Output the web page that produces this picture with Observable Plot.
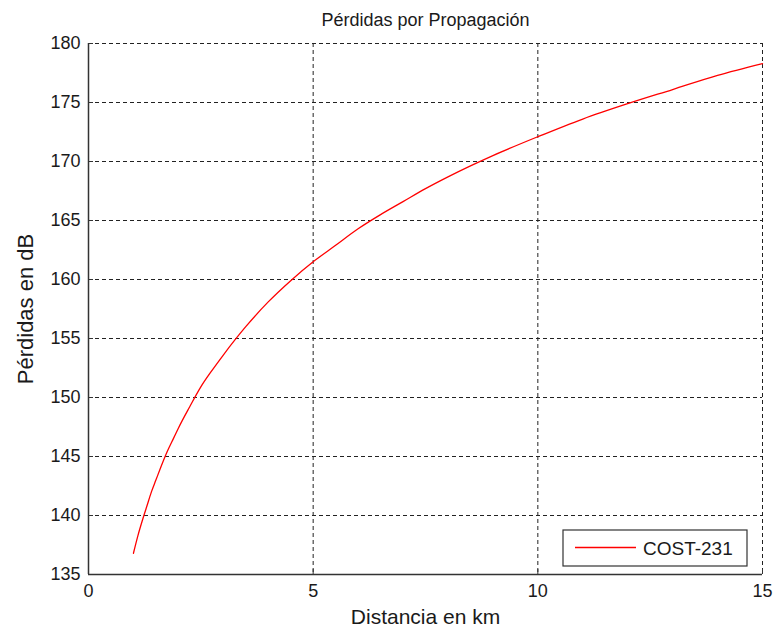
<!DOCTYPE html>
<html>
<head>
<meta charset="utf-8">
<script src="https://cdn.jsdelivr.net/npm/d3@7"></script>
<script src="https://cdn.jsdelivr.net/npm/@observablehq/plot@0.6"></script>
<style>
  html, body { margin: 0; padding: 0; background: #fff; }
  #chart { width: 775px; height: 628px; }
  svg { font-family: "Liberation Sans", Arial, sans-serif; }
</style>
</head>
<body>
<div id="chart"></div>
<script>
const title = "Pérdidas por Propagación";
const xLabel = "Distancia en km";
const yLabel = "Pérdidas en dB";
const seriesName = "COST-231";

const distanceKm = [1, 1.1, 1.2, 1.3, 1.4, 1.5, 1.6, 1.75, 1.9, 2, 2.25, 2.5, 2.75, 3, 3.5, 4, 4.5, 5, 5.5, 6, 6.5, 7, 7.5, 8, 9, 10, 11, 12, 13, 14, 15];
const lossDb = [136.8, 138.3, 139.6, 140.8, 142.0, 143.0, 144.0, 145.4, 146.6, 147.4, 149.2, 150.9, 152.3, 153.6, 156.0, 158.1, 159.9, 161.5, 162.9, 164.3, 165.5, 166.6, 167.7, 168.7, 170.5, 172.1, 173.6, 174.9, 176.1, 177.3, 178.3];

const xTicks = [0, 5, 10, 15];
const yTicks = [135, 140, 145, 150, 155, 160, 165, 170, 175, 180];

const data = distanceKm.map((d, i) => ({d, L: lossDb[i]}));

const W = 775, H = 628;
const mL = 88, mR = 13, mT = 43, mB = 54;
const plotW = W - mL - mR, plotH = H - mT - mB;

const chart = Plot.plot({
  width: W,
  height: H,
  marginLeft: mL,
  marginRight: mR,
  marginTop: mT,
  marginBottom: mB,
  style: {fontFamily: "Liberation Sans, Arial, sans-serif", fontSize: "18px", color: "#1a1a1a", background: "#fff"},
  x: {domain: [0, 15], ticks: xTicks},
  y: {domain: [135, 180], ticks: yTicks},
  marks: [
    Plot.gridX(xTicks, {stroke: "#222", strokeOpacity: 1, strokeDasharray: "4,3", strokeWidth: 1}),
    Plot.gridY(yTicks, {stroke: "#222", strokeOpacity: 1, strokeDasharray: "4,3", strokeWidth: 1}),
    Plot.tickY(yTicks, {y: d => d, stroke: "#333", insetRight: plotW - 5}),
    Plot.tickX(xTicks, {x: d => d, stroke: "#333", insetTop: plotH - 5}),
    Plot.ruleX([0], {stroke: "#333", strokeWidth: 1.5}),
    Plot.ruleY([135], {stroke: "#333", strokeWidth: 1.5}),
    Plot.line(data, {x: "d", y: "L", stroke: "#ff0000", strokeWidth: 1.3, curve: "monotone-x"}),
    Plot.axisX(xTicks, {tickSize: 0, tickPadding: 10, label: null, fontSize: 18, fill: "#1a1a1a"}),
    Plot.axisY(yTicks, {tickSize: 0, tickPadding: 8, label: null, fontSize: 18, fill: "#1a1a1a"}),
    Plot.text([title], {frameAnchor: "top", lineAnchor: "middle", dy: -23, fontSize: 18, fill: "#1a1a1a"}),
    Plot.text([xLabel], {frameAnchor: "bottom", lineAnchor: "middle", dy: 43, fontSize: 21, fill: "#1a1a1a"}),
    Plot.text([yLabel], {frameAnchor: "left", textAnchor: "middle", lineAnchor: "middle", dx: -63, rotate: -90, fontSize: 22, fill: "#1a1a1a"})
  ]
});

// Legend box (inside plot, bottom-right)
const svg = d3.select(chart);
const lg = svg.append("g").attr("transform", `translate(${mL + plotW - 199}, ${mT + plotH - 44})`);
lg.append("rect").attr("width", 184).attr("height", 36).attr("fill", "#fff").attr("stroke", "#333").attr("stroke-width", 1.2);
lg.append("line").attr("x1", 12).attr("x2", 73).attr("y1", 17.5).attr("y2", 17.5).attr("stroke", "#ff0000").attr("stroke-width", 1.3);
lg.append("text").attr("x", 80).attr("y", 18).attr("dy", "0.35em").attr("text-anchor", "start").attr("font-size", 19).attr("fill", "#1a1a1a").text(seriesName);

document.getElementById("chart").appendChild(chart);
</script>
</body>
</html>
